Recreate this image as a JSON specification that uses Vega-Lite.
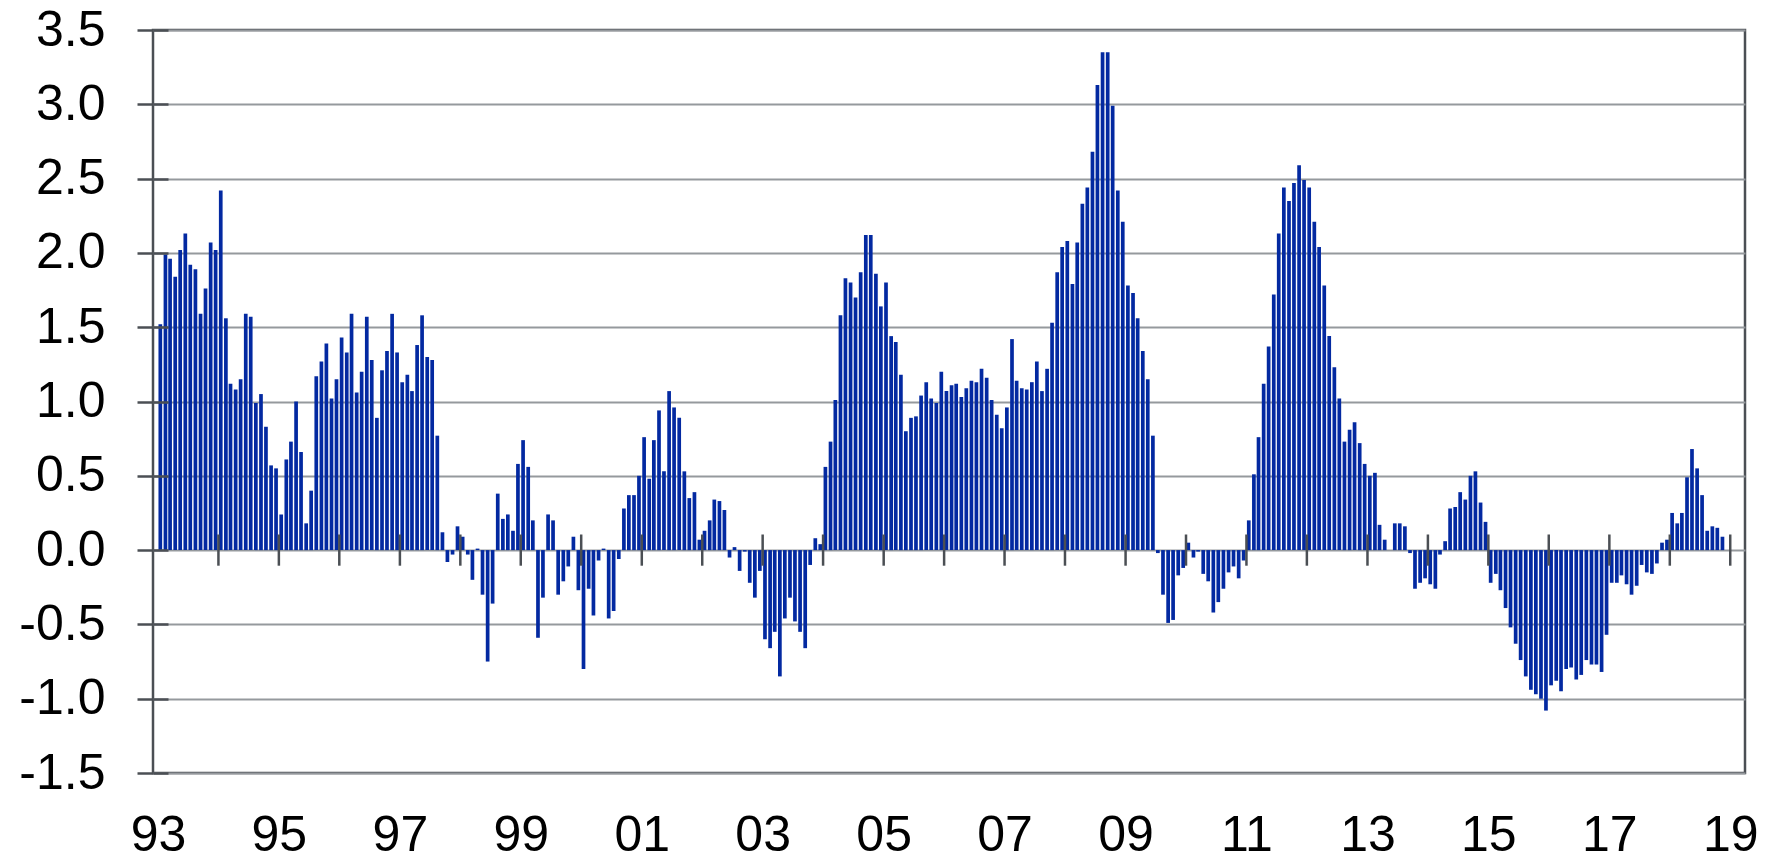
{
  "$schema": "https://vega.github.io/schema/vega-lite/v6.json",
  "width": 1592,
  "height": 743,
  "autosize": "none",
  "padding": {"left": 153, "top": 30, "right": 37, "bottom": 87},
  "background": "white",
  "config": {
    "view": {"stroke": "#4b4f54", "strokeWidth": 2.5},
    "font": "Liberation Sans",
    "axis": {"labelFont": "Liberation Sans", "labelColor": "#000000", "labelFontSize": 50, "title": null}
  },
  "datasets": {
    "ticks": [
      {"m": "1994-01-01"}, {"m": "1995-01-01"}, {"m": "1996-01-01"}, {"m": "1997-01-01"}, {"m": "1998-01-01"},
      {"m": "1999-01-01"}, {"m": "2000-01-01"}, {"m": "2001-01-01"}, {"m": "2002-01-01"}, {"m": "2003-01-01"},
      {"m": "2004-01-01"}, {"m": "2005-01-01"}, {"m": "2006-01-01"}, {"m": "2007-01-01"}, {"m": "2008-01-01"},
      {"m": "2009-01-01"}, {"m": "2010-01-01"}, {"m": "2011-01-01"}, {"m": "2012-01-01"}, {"m": "2013-01-01"},
      {"m": "2014-01-01"}, {"m": "2015-01-01"}, {"m": "2016-01-01"}, {"m": "2017-01-01"}, {"m": "2018-01-01"},
      {"m": "2019-01-01"}
    ],
    "series": [
      {"m":"1993-01-15","v":1.52},{"m":"1993-02-15","v":1.99},{"m":"1993-03-15","v":1.96},{"m":"1993-04-15","v":1.84},{"m":"1993-05-15","v":2.02},{"m":"1993-06-15","v":2.13},{"m":"1993-07-15","v":1.92},{"m":"1993-08-15","v":1.89},{"m":"1993-09-15","v":1.59},{"m":"1993-10-15","v":1.76},{"m":"1993-11-15","v":2.07},{"m":"1993-12-15","v":2.02},
      {"m":"1994-01-15","v":2.42},{"m":"1994-02-15","v":1.56},{"m":"1994-03-15","v":1.12},{"m":"1994-04-15","v":1.08},{"m":"1994-05-15","v":1.15},{"m":"1994-06-15","v":1.59},{"m":"1994-07-15","v":1.57},{"m":"1994-08-15","v":0.99},{"m":"1994-09-15","v":1.05},{"m":"1994-10-15","v":0.83},{"m":"1994-11-15","v":0.57},{"m":"1994-12-15","v":0.55},
      {"m":"1995-01-15","v":0.24},{"m":"1995-02-15","v":0.61},{"m":"1995-03-15","v":0.73},{"m":"1995-04-15","v":1.00},{"m":"1995-05-15","v":0.66},{"m":"1995-06-15","v":0.18},{"m":"1995-07-15","v":0.40},{"m":"1995-08-15","v":1.17},{"m":"1995-09-15","v":1.27},{"m":"1995-10-15","v":1.39},{"m":"1995-11-15","v":1.02},{"m":"1995-12-15","v":1.15},
      {"m":"1996-01-15","v":1.43},{"m":"1996-02-15","v":1.33},{"m":"1996-03-15","v":1.59},{"m":"1996-04-15","v":1.06},{"m":"1996-05-15","v":1.20},{"m":"1996-06-15","v":1.57},{"m":"1996-07-15","v":1.28},{"m":"1996-08-15","v":0.89},{"m":"1996-09-15","v":1.21},{"m":"1996-10-15","v":1.34},{"m":"1996-11-15","v":1.59},{"m":"1996-12-15","v":1.33},
      {"m":"1997-01-15","v":1.13},{"m":"1997-02-15","v":1.18},{"m":"1997-03-15","v":1.07},{"m":"1997-04-15","v":1.38},{"m":"1997-05-15","v":1.58},{"m":"1997-06-15","v":1.30},{"m":"1997-07-15","v":1.28},{"m":"1997-08-15","v":0.77},{"m":"1997-09-15","v":0.12},{"m":"1997-10-15","v":-0.08},{"m":"1997-11-15","v":-0.03},{"m":"1997-12-15","v":0.16},
      {"m":"1998-01-15","v":0.09},{"m":"1998-02-15","v":-0.03},{"m":"1998-03-15","v":-0.20},{"m":"1998-04-15","v":0.01},{"m":"1998-05-15","v":-0.30},{"m":"1998-06-15","v":-0.75},{"m":"1998-07-15","v":-0.36},{"m":"1998-08-15","v":0.38},{"m":"1998-09-15","v":0.21},{"m":"1998-10-15","v":0.24},{"m":"1998-11-15","v":0.13},{"m":"1998-12-15","v":0.58},
      {"m":"1999-01-15","v":0.74},{"m":"1999-02-15","v":0.56},{"m":"1999-03-15","v":0.20},{"m":"1999-04-15","v":-0.59},{"m":"1999-05-15","v":-0.32},{"m":"1999-06-15","v":0.24},{"m":"1999-07-15","v":0.20},{"m":"1999-08-15","v":-0.30},{"m":"1999-09-15","v":-0.21},{"m":"1999-10-15","v":-0.11},{"m":"1999-11-15","v":0.09},{"m":"1999-12-15","v":-0.27},
      {"m":"2000-01-15","v":-0.80},{"m":"2000-02-15","v":-0.26},{"m":"2000-03-15","v":-0.44},{"m":"2000-04-15","v":-0.07},{"m":"2000-05-15","v":0.01},{"m":"2000-06-15","v":-0.46},{"m":"2000-07-15","v":-0.41},{"m":"2000-08-15","v":-0.06},{"m":"2000-09-15","v":0.28},{"m":"2000-10-15","v":0.37},{"m":"2000-11-15","v":0.37},{"m":"2000-12-15","v":0.50},
      {"m":"2001-01-15","v":0.76},{"m":"2001-02-15","v":0.48},{"m":"2001-03-15","v":0.74},{"m":"2001-04-15","v":0.94},{"m":"2001-05-15","v":0.53},{"m":"2001-06-15","v":1.07},{"m":"2001-07-15","v":0.96},{"m":"2001-08-15","v":0.89},{"m":"2001-09-15","v":0.53},{"m":"2001-10-15","v":0.35},{"m":"2001-11-15","v":0.39},{"m":"2001-12-15","v":0.07},
      {"m":"2002-01-15","v":0.13},{"m":"2002-02-15","v":0.20},{"m":"2002-03-15","v":0.34},{"m":"2002-04-15","v":0.33},{"m":"2002-05-15","v":0.27},{"m":"2002-06-15","v":-0.05},{"m":"2002-07-15","v":0.02},{"m":"2002-08-15","v":-0.14},{"m":"2002-09-15","v":-0.01},{"m":"2002-10-15","v":-0.22},{"m":"2002-11-15","v":-0.32},{"m":"2002-12-15","v":-0.14},
      {"m":"2003-01-15","v":-0.60},{"m":"2003-02-15","v":-0.66},{"m":"2003-03-15","v":-0.55},{"m":"2003-04-15","v":-0.85},{"m":"2003-05-15","v":-0.46},{"m":"2003-06-15","v":-0.32},{"m":"2003-07-15","v":-0.48},{"m":"2003-08-15","v":-0.55},{"m":"2003-09-15","v":-0.66},{"m":"2003-10-15","v":-0.10},{"m":"2003-11-15","v":0.08},{"m":"2003-12-15","v":0.04},
      {"m":"2004-01-15","v":0.56},{"m":"2004-02-15","v":0.73},{"m":"2004-03-15","v":1.01},{"m":"2004-04-15","v":1.58},{"m":"2004-05-15","v":1.83},{"m":"2004-06-15","v":1.80},{"m":"2004-07-15","v":1.70},{"m":"2004-08-15","v":1.87},{"m":"2004-09-15","v":2.12},{"m":"2004-10-15","v":2.12},{"m":"2004-11-15","v":1.86},{"m":"2004-12-15","v":1.64},
      {"m":"2005-01-15","v":1.80},{"m":"2005-02-15","v":1.44},{"m":"2005-03-15","v":1.40},{"m":"2005-04-15","v":1.18},{"m":"2005-05-15","v":0.80},{"m":"2005-06-15","v":0.89},{"m":"2005-07-15","v":0.90},{"m":"2005-08-15","v":1.04},{"m":"2005-09-15","v":1.13},{"m":"2005-10-15","v":1.02},{"m":"2005-11-15","v":0.99},{"m":"2005-12-15","v":1.20},
      {"m":"2006-01-15","v":1.07},{"m":"2006-02-15","v":1.11},{"m":"2006-03-15","v":1.12},{"m":"2006-04-15","v":1.03},{"m":"2006-05-15","v":1.09},{"m":"2006-06-15","v":1.14},{"m":"2006-07-15","v":1.13},{"m":"2006-08-15","v":1.22},{"m":"2006-09-15","v":1.16},{"m":"2006-10-15","v":1.01},{"m":"2006-11-15","v":0.91},{"m":"2006-12-15","v":0.82},
      {"m":"2007-01-15","v":0.96},{"m":"2007-02-15","v":1.42},{"m":"2007-03-15","v":1.14},{"m":"2007-04-15","v":1.09},{"m":"2007-05-15","v":1.08},{"m":"2007-06-15","v":1.13},{"m":"2007-07-15","v":1.27},{"m":"2007-08-15","v":1.07},{"m":"2007-09-15","v":1.22},{"m":"2007-10-15","v":1.53},{"m":"2007-11-15","v":1.87},{"m":"2007-12-15","v":2.04},
      {"m":"2008-01-15","v":2.08},{"m":"2008-02-15","v":1.79},{"m":"2008-03-15","v":2.07},{"m":"2008-04-15","v":2.33},{"m":"2008-05-15","v":2.44},{"m":"2008-06-15","v":2.68},{"m":"2008-07-15","v":3.13},{"m":"2008-08-15","v":3.35},{"m":"2008-09-15","v":3.35},{"m":"2008-10-15","v":2.99},{"m":"2008-11-15","v":2.42},{"m":"2008-12-15","v":2.21},
      {"m":"2009-01-15","v":1.78},{"m":"2009-02-15","v":1.73},{"m":"2009-03-15","v":1.56},{"m":"2009-04-15","v":1.34},{"m":"2009-05-15","v":1.15},{"m":"2009-06-15","v":0.77},{"m":"2009-07-15","v":-0.02},{"m":"2009-08-15","v":-0.30},{"m":"2009-09-15","v":-0.49},{"m":"2009-10-15","v":-0.47},{"m":"2009-11-15","v":-0.17},{"m":"2009-12-15","v":-0.12},
      {"m":"2010-01-15","v":0.05},{"m":"2010-02-15","v":-0.05},{"m":"2010-03-15","v":-0.01},{"m":"2010-04-15","v":-0.16},{"m":"2010-05-15","v":-0.21},{"m":"2010-06-15","v":-0.42},{"m":"2010-07-15","v":-0.35},{"m":"2010-08-15","v":-0.26},{"m":"2010-09-15","v":-0.15},{"m":"2010-10-15","v":-0.11},{"m":"2010-11-15","v":-0.19},{"m":"2010-12-15","v":-0.07},
      {"m":"2011-01-15","v":0.20},{"m":"2011-02-15","v":0.51},{"m":"2011-03-15","v":0.76},{"m":"2011-04-15","v":1.12},{"m":"2011-05-15","v":1.37},{"m":"2011-06-15","v":1.72},{"m":"2011-07-15","v":2.13},{"m":"2011-08-15","v":2.44},{"m":"2011-09-15","v":2.35},{"m":"2011-10-15","v":2.47},{"m":"2011-11-15","v":2.59},{"m":"2011-12-15","v":2.49},
      {"m":"2012-01-15","v":2.44},{"m":"2012-02-15","v":2.21},{"m":"2012-03-15","v":2.04},{"m":"2012-04-15","v":1.78},{"m":"2012-05-15","v":1.44},{"m":"2012-06-15","v":1.23},{"m":"2012-07-15","v":1.02},{"m":"2012-08-15","v":0.73},{"m":"2012-09-15","v":0.81},{"m":"2012-10-15","v":0.86},{"m":"2012-11-15","v":0.72},{"m":"2012-12-15","v":0.58},
      {"m":"2013-01-15","v":0.50},{"m":"2013-02-15","v":0.52},{"m":"2013-03-15","v":0.17},{"m":"2013-04-15","v":0.07},{"m":"2013-05-15","v":0.00},{"m":"2013-06-15","v":0.18},{"m":"2013-07-15","v":0.18},{"m":"2013-08-15","v":0.16},{"m":"2013-09-15","v":-0.02},{"m":"2013-10-15","v":-0.26},{"m":"2013-11-15","v":-0.22},{"m":"2013-12-15","v":-0.19},
      {"m":"2014-01-15","v":-0.23},{"m":"2014-02-15","v":-0.26},{"m":"2014-03-15","v":-0.03},{"m":"2014-04-15","v":0.06},{"m":"2014-05-15","v":0.28},{"m":"2014-06-15","v":0.29},{"m":"2014-07-15","v":0.39},{"m":"2014-08-15","v":0.34},{"m":"2014-09-15","v":0.50},{"m":"2014-10-15","v":0.53},{"m":"2014-11-15","v":0.32},{"m":"2014-12-15","v":0.19},
      {"m":"2015-01-15","v":-0.22},{"m":"2015-02-15","v":-0.16},{"m":"2015-03-15","v":-0.27},{"m":"2015-04-15","v":-0.39},{"m":"2015-05-15","v":-0.52},{"m":"2015-06-15","v":-0.63},{"m":"2015-07-15","v":-0.74},{"m":"2015-08-15","v":-0.85},{"m":"2015-09-15","v":-0.94},{"m":"2015-10-15","v":-0.97},{"m":"2015-11-15","v":-1.00},{"m":"2015-12-15","v":-1.08},
      {"m":"2016-01-15","v":-0.91},{"m":"2016-02-15","v":-0.88},{"m":"2016-03-15","v":-0.95},{"m":"2016-04-15","v":-0.80},{"m":"2016-05-15","v":-0.79},{"m":"2016-06-15","v":-0.87},{"m":"2016-07-15","v":-0.84},{"m":"2016-08-15","v":-0.74},{"m":"2016-09-15","v":-0.77},{"m":"2016-10-15","v":-0.77},{"m":"2016-11-15","v":-0.82},{"m":"2016-12-15","v":-0.57},
      {"m":"2017-01-15","v":-0.22},{"m":"2017-02-15","v":-0.22},{"m":"2017-03-15","v":-0.17},{"m":"2017-04-15","v":-0.23},{"m":"2017-05-15","v":-0.30},{"m":"2017-06-15","v":-0.24},{"m":"2017-07-15","v":-0.10},{"m":"2017-08-15","v":-0.15},{"m":"2017-09-15","v":-0.16},{"m":"2017-10-15","v":-0.09},{"m":"2017-11-15","v":0.05},{"m":"2017-12-15","v":0.07},
      {"m":"2018-01-15","v":0.25},{"m":"2018-02-15","v":0.18},{"m":"2018-03-15","v":0.25},{"m":"2018-04-15","v":0.49},{"m":"2018-05-15","v":0.68},{"m":"2018-06-15","v":0.55},{"m":"2018-07-15","v":0.37},{"m":"2018-08-15","v":0.13},{"m":"2018-09-15","v":0.16},{"m":"2018-10-15","v":0.15},{"m":"2018-11-15","v":0.09}
    ]
  },
  "layer": [
    {
      "data": {"name": "series"},
      "mark": {"type": "bar", "width": 3.7, "color": "#0329a1"},
      "encoding": {
        "x": {
          "field": "m", "type": "temporal",
          "scale": {"type": "utc", "domain": [{"year": 1993, "month": 1, "date": 1, "utc": true}, {"year": 2019, "month": 3, "date": 1, "utc": true}]},
          "axis": {
            "orient": "bottom", "title": null, "grid": false, "domain": false, "ticks": false, "tickSize": 0,
            "labelPadding": 37, "labelExpr": "utcFormat(datum.value, '%y')", "labelFontSize": 50, "labelFlush": false, "labelOverlap": false,
            "values": [
              {"year": 1993, "month": 1, "date": 1, "utc": true}, {"year": 1995, "month": 1, "date": 1, "utc": true},
              {"year": 1997, "month": 1, "date": 1, "utc": true}, {"year": 1999, "month": 1, "date": 1, "utc": true},
              {"year": 2001, "month": 1, "date": 1, "utc": true}, {"year": 2003, "month": 1, "date": 1, "utc": true},
              {"year": 2005, "month": 1, "date": 1, "utc": true}, {"year": 2007, "month": 1, "date": 1, "utc": true},
              {"year": 2009, "month": 1, "date": 1, "utc": true}, {"year": 2011, "month": 1, "date": 1, "utc": true},
              {"year": 2013, "month": 1, "date": 1, "utc": true}, {"year": 2015, "month": 1, "date": 1, "utc": true},
              {"year": 2017, "month": 1, "date": 1, "utc": true}, {"year": 2019, "month": 1, "date": 1, "utc": true}
            ]
          }
        },
        "y": {
          "field": "v", "type": "quantitative",
          "scale": {"domain": [-1.5, 3.5], "nice": false, "zero": false},
          "axis": {
            "orient": "left", "title": null, "values": [-1.5, -1, -0.5, 0, 0.5, 1, 1.5, 2, 2.5, 3, 3.5],
            "labelExpr": "datum.value < 0 ? '-' + format(-datum.value, '.1f') : format(datum.value, '.1f')",
            "domain": false, "grid": true, "gridColor": "#95999d", "gridWidth": 2,
            "ticks": true, "tickSize": 16, "tickColor": "#4b4f54", "tickWidth": 2.5,
            "labelPadding": 32, "labelFontSize": 50, "labelFlush": false, "labelOverlap": false
          }
        }
      }
    },
    {
      "mark": {"type": "rule", "color": "#4b4f54", "strokeWidth": 2.5},
      "encoding": {
        "y": {
          "datum": 0, "type": "quantitative",
          "axis": {
            "orient": "left", "title": null, "offset": -15, "values": [-1.5, -1, -0.5, 0, 0.5, 1, 1.5, 2, 2.5, 3, 3.5],
            "labels": false, "grid": false, "domain": false, "ticks": true, "tickSize": 15,
            "tickColor": "#4b4f54", "tickWidth": 2.5, "zindex": 1
          }
        }
      }
    },
    {
      "data": {"name": "ticks"},
      "mark": {"type": "rule", "color": "#4b4f54", "strokeWidth": 2.5},
      "encoding": {
        "x": {
          "field": "m", "type": "temporal",
          "scale": {"type": "utc", "domain": [{"year": 1993, "month": 1, "date": 1, "utc": true}, {"year": 2019, "month": 3, "date": 1, "utc": true}]}
        },
        "y": {"datum": -0.105, "type": "quantitative", "axis": null},
        "y2": {"datum": 0.105}
      }
    }
  ],
  "resolve": {"axis": {"y": "independent"}}
}
